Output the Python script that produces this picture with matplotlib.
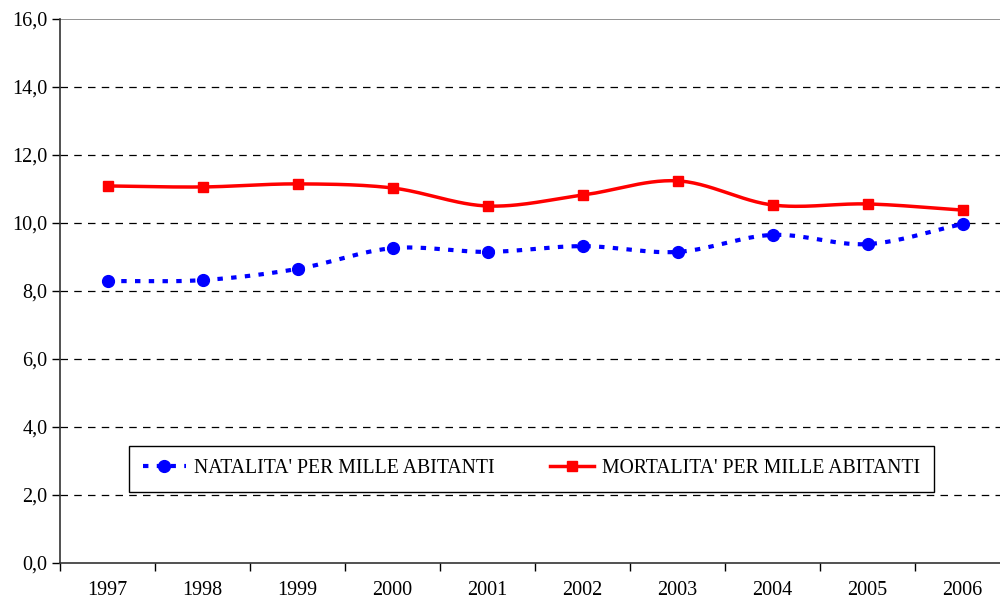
import numpy as np
import matplotlib
matplotlib.use('Agg')
import matplotlib.pyplot as plt
from matplotlib.ticker import FuncFormatter

plt.rcParams['font.family'] = ['Liberation Serif', 'DejaVu Serif']

# dati
anni = ['1997', '1998', '1999', '2000', '2001', '2002', '2003', '2004', '2005', '2006']
natalita = [8.29, 8.32, 8.65, 9.26, 9.15, 9.32, 9.15, 9.65, 9.38, 9.97]
mortalita = [11.09, 11.06, 11.15, 11.03, 10.50, 10.82, 11.24, 10.53, 10.56, 10.38]


# curva smussata tipo Excel (Catmull-Rom)
def smooth(y, n=30):
    y = np.asarray(y, dtype=float)
    x = np.arange(len(y), dtype=float)
    px = np.concatenate([[2 * x[0] - x[1]], x, [2 * x[-1] - x[-2]]])
    py = np.concatenate([[2 * y[0] - y[1]], y, [2 * y[-1] - y[-2]]])
    xs, ys = [], []
    t = np.linspace(0, 1, n)
    for i in range(1, len(px) - 2):
        for arr, out in ((px, xs), (py, ys)):
            p0, p1, p2, p3 = arr[i - 1], arr[i], arr[i + 1], arr[i + 2]
            out.extend(0.5 * (2 * p1 + (-p0 + p2) * t
                              + (2 * p0 - 5 * p1 + 4 * p2 - p3) * t ** 2
                              + (-p0 + 3 * p1 - 3 * p2 + p3) * t ** 3))
    return np.array(xs), np.array(ys)


fig = plt.figure(figsize=(10, 6.01), dpi=100)
ax = fig.add_axes([0.06, 0.0632, 0.95, 0.9052])

x = np.arange(len(anni))
sx, sy = smooth(natalita)
ax.plot(sx, sy, color='#0000ff', lw=3, dashes=(1.3, 2.0), zorder=3)
ax.plot(x, natalita, 'o', color='#0000ff', ms=8.5, zorder=4)
sx, sy = smooth(mortalita)
ax.plot(sx, sy, color='#ff0000', lw=2.5, zorder=3)
ax.plot(x, mortalita, 's', color='#ff0000', ms=7.5, zorder=4)

# voci legenda
h1, = ax.plot([], [], color='#0000ff', lw=3, dashes=(1.3, 2.0), marker='o', ms=8.5)
h2, = ax.plot([], [], color='#ff0000', lw=2.5, marker='s', ms=7.5)

ax.set_xlim(-0.5, 9.5)
ax.set_ylim(0, 16)
ax.set_yticks(np.arange(0, 17, 2))
ax.yaxis.set_major_formatter(FuncFormatter(lambda v, p: ('%.1f' % v).replace('.', ',')))
ax.set_xticks(np.arange(-0.5, 10, 1))
ax.set_xticklabels([])
ax.set_xticks(x, minor=True)
ax.set_xticklabels(anni, minor=True)
ax.tick_params(axis='x', which='minor', length=0, pad=13, labelsize=14.5)
ax.tick_params(axis='x', which='major', length=6, direction='out', width=1)
ax.tick_params(axis='y', length=6, direction='out', width=1, labelsize=14.5, pad=3)

for v in range(2, 16, 2):
    ax.axhline(v, color='black', lw=0.9, dashes=(6, 5), zorder=1)
ax.axhline(16, color='#808080', lw=1.2, zorder=1)

for s in ['top', 'right']:
    ax.spines[s].set_visible(False)
ax.spines['left'].set_color('#333333')
ax.spines['bottom'].set_color('#333333')
ax.spines['left'].set_linewidth(1.2)
ax.spines['bottom'].set_linewidth(1.2)

leg = ax.legend([h1, h2], ["NATALITA' PER MILLE ABITANTI", "MORTALITA' PER MILLE ABITANTI"],
                ncol=2, loc='center', bbox_to_anchor=(0.062, 0.118, 0.868, 0.11),
                mode='expand', fancybox=False, edgecolor='black', framealpha=1,
                fontsize=14.2, handlelength=2.2, borderpad=0.7, columnspacing=2.0,
                handletextpad=0.4)
leg.get_frame().set_linewidth(1.0)

fig.savefig('out.png', dpi=100)
